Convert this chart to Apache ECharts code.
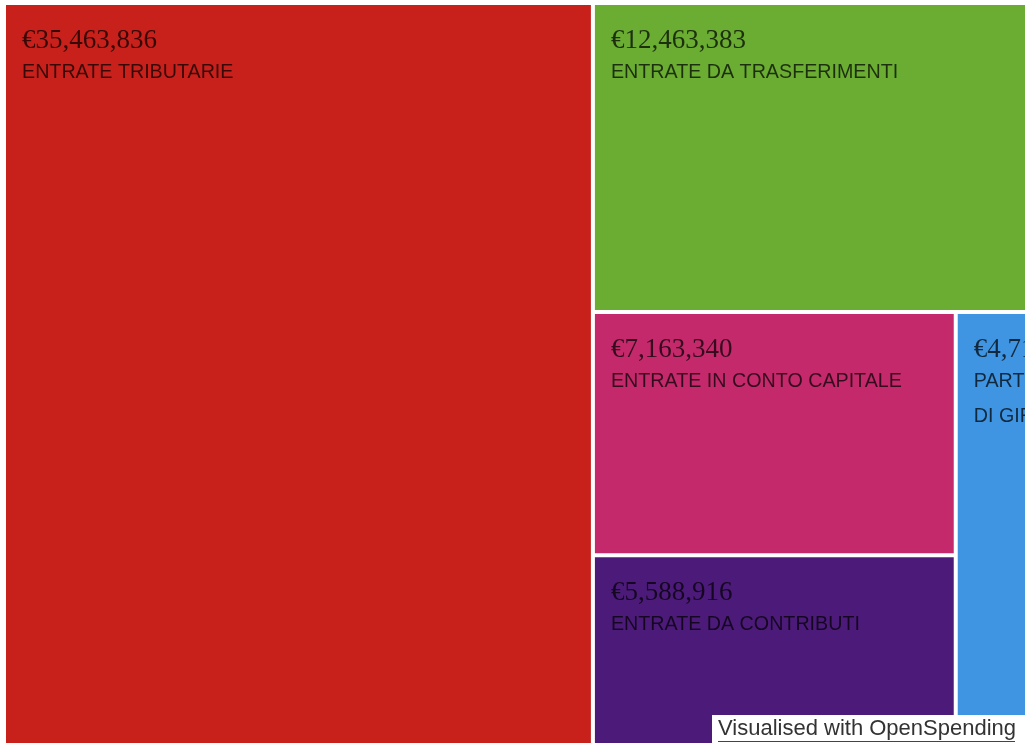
<!DOCTYPE html>
<html>
<head>
<meta charset="utf-8">
<style>
  html, body { margin: 0; padding: 0; background: #ffffff; }
  #chart { width: 1025px; height: 747px; }
</style>
<script src="https://cdn.jsdelivr.net/npm/echarts@6/dist/echarts.min.js"></script>
</head>
<body>
<div id="chart"></div>
<script>
// Revenue categories (euro), largest first
const categories = [
  'ENTRATE TRIBUTARIE',
  'ENTRATE DA TRASFERIMENTI',
  'ENTRATE IN CONTO CAPITALE',
  'ENTRATE DA CONTRIBUTI',
  'PARTITE\nDI GIRO'
];
const amounts = [35463836, 12463383, 7163340, 5588916, 4718540];
const colors = ['#c8211c', '#6aad32', '#c4296b', '#4c1b7a', '#3f95e2'];

const chart = echarts.init(document.getElementById('chart'), null, { renderer: 'canvas' });

const data = categories.map((name, i) => ({
  name: name,
  value: amounts[i],
  itemStyle: { color: colors[i] }
}));

const euro = v => '€' + v.toLocaleString('en-US');

chart.setOption({
  animation: false,
  series: [{
    type: 'treemap',
    left: 6,
    top: 5,
    width: 1082,
    height: 738,
    squareRatio: 1,
    roam: false,
    nodeClick: false,
    sort: 'desc',
    breadcrumb: { show: false },
    itemStyle: { borderWidth: 0, gapWidth: 4, borderColor: '#ffffff' },
    emphasis: { disabled: true },
    label: {
      show: true,
      position: [11, 17],
      overflow: 'none',
      formatter: p => '{v|' + euro(p.value) + '}\n{n|' + p.name + '}',
      rich: {
        v: {
          fontFamily: '"Liberation Serif", "DejaVu Serif", serif',
          fontSize: 27,
          lineHeight: 28,
          color: 'rgba(0,0,0,0.72)'
        },
        n: {
          fontFamily: '"Liberation Sans", Arial, sans-serif',
          fontSize: 19.7,
          lineHeight: 35,
          color: 'rgba(0,0,0,0.72)'
        }
      }
    },
    upperLabel: { show: false },
    data: data
  }],
  graphic: [{
    type: 'group',
    left: 712,
    top: 715,
    z: 100,
    children: [
      { type: 'rect', z: 100, shape: { x: 0, y: 0, width: 313, height: 32 }, style: { fill: '#ffffff' } },
      {
        type: 'text', z: 101, x: 6, y: 3,
        style: {
          text: 'Visualised with OpenSpending',
          font: '22px "Liberation Sans", Arial, sans-serif',
          fill: '#333333'
        }
      },
      { type: 'line', z: 101, shape: { x1: 6, y1: 26.5, x2: 303, y2: 26.5 }, style: { stroke: '#444444', lineWidth: 1.2 } }
    ]
  }]
});
</script>
</body>
</html>
